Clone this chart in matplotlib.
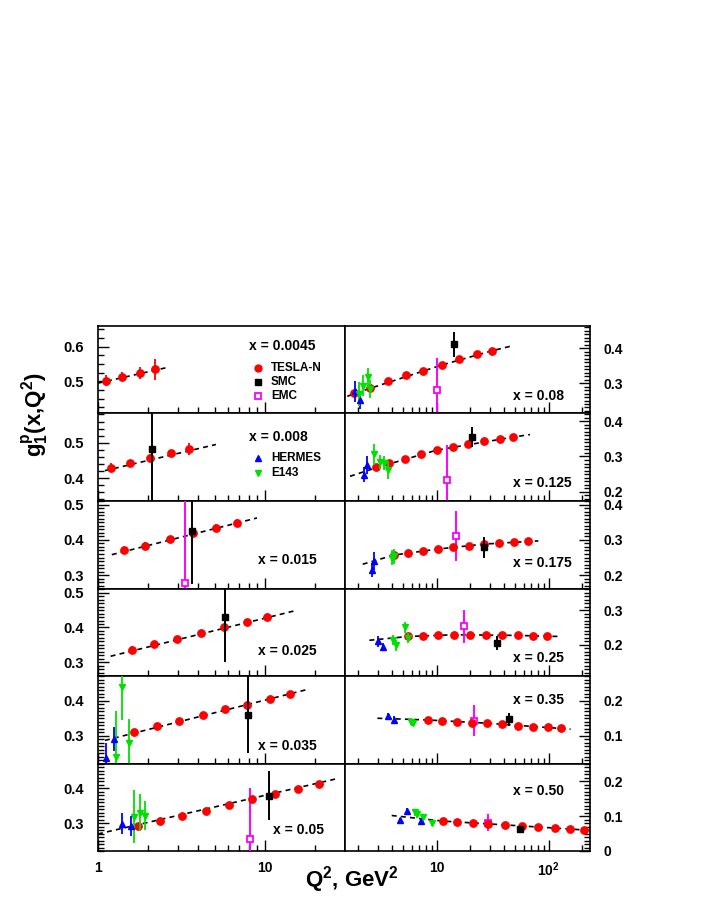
import matplotlib
matplotlib.use('Agg')
import matplotlib.pyplot as plt
import matplotlib.lines as mlines
from matplotlib.ticker import MultipleLocator, LogLocator, FuncFormatter

plt.rcParams['font.family'] = ['Liberation Sans', 'DejaVu Sans']
plt.rcParams['font.weight'] = 'bold'
plt.rcParams['mathtext.fontset'] = 'custom'
plt.rcParams['mathtext.rm'] = 'Liberation Sans:bold'
plt.rcParams['mathtext.it'] = 'Liberation Sans:bold'
plt.rcParams['mathtext.bf'] = 'Liberation Sans:bold'

# panels: left column x=0.0045..0.05, right column x=0.08..0.50
x_bins = ["0.0045", "0.008", "0.015", "0.025", "0.035", "0.05",
          "0.08", "0.125", "0.175", "0.25", "0.35", "0.50"]

y_ranges = [(0.41, 0.66), (0.335, 0.585), (0.26, 0.51), (0.26, 0.51), (0.22, 0.47), (0.22, 0.47),
            (0.215, 0.465), (0.174, 0.424), (0.16, 0.41), (0.11, 0.36), (0.02, 0.27), (0.0, 0.25)]

# TESLA-N projected points
tesla_q2 = [
    [1.11, 1.40, 1.78, 2.19],
    [1.20, 1.55, 2.06, 2.72, 3.51],
    [1.44, 1.92, 2.69, 3.73, 5.09, 6.82],
    [1.60, 2.18, 2.99, 4.13, 5.71, 7.84, 10.35],
    [1.65, 2.26, 3.06, 4.23, 5.77, 7.84, 10.7, 14.1],
    [1.74, 2.35, 3.20, 4.43, 6.13, 8.40, 11.5, 15.9, 21.0],
    [1.83, 2.54, 3.70, 5.32, 7.59, 11.1, 15.8, 22.8, 31.3],
    [2.87, 3.77, 5.21, 7.19, 10.0, 13.9, 19.1, 26.4, 36.7, 48.3],
    [4.16, 5.58, 7.59, 10.3, 14.1, 19.4, 26.4, 36.2, 49.3, 64.9],
    [5.58, 7.59, 10.3, 14.3, 19.8, 27.4, 38.1, 52.7, 72.1, 95.7],
    [8.41, 11.1, 15.1, 20.5, 27.9, 38.5, 52.9, 71.9, 98.0, 128],
    [11.3, 15.1, 21.2, 28.9, 40.7, 57.4, 80.9, 114, 155, 207],
]
tesla_g1 = [
    [0.502, 0.514, 0.525, 0.535],
    [0.429, 0.442, 0.457, 0.470, 0.481],
    [0.370, 0.384, 0.402, 0.418, 0.434, 0.448],
    [0.336, 0.352, 0.368, 0.384, 0.400, 0.415, 0.429],
    [0.310, 0.327, 0.341, 0.358, 0.375, 0.389, 0.404, 0.418],
    [0.292, 0.305, 0.321, 0.336, 0.353, 0.369, 0.384, 0.398, 0.412],
    [0.271, 0.286, 0.305, 0.322, 0.336, 0.353, 0.369, 0.383, 0.393],
    [0.269, 0.282, 0.294, 0.306, 0.318, 0.327, 0.335, 0.343, 0.349, 0.355],
    [0.257, 0.262, 0.269, 0.274, 0.281, 0.284, 0.288, 0.292, 0.293, 0.296],
    [0.224, 0.226, 0.228, 0.229, 0.229, 0.228, 0.228, 0.227, 0.225, 0.224],
    [0.145, 0.143, 0.140, 0.137, 0.136, 0.133, 0.129, 0.126, 0.124, 0.121],
    [0.086, 0.083, 0.080, 0.079, 0.075, 0.072, 0.068, 0.065, 0.0625, 0.0605],
]
tesla_err = [
    [0.015, 0.014, 0.017, 0.03],
    [0.013, 0.01, 0.01, 0.01, 0.017],
    [0.01, 0.01, 0.01, 0.01, 0.01, 0.012],
    [0.01, 0.01, 0.008, 0.008, 0.008, 0.008, 0.008],
    [0.008, 0.01, 0.008, 0.006, 0.006, 0.006, 0.006, 0.006],
    [0.006, 0.006, 0.006, 0.006, 0.005, 0.005, 0.005, 0.005, 0.005],
    [0.01, 0.004, 0.004, 0.004, 0.004, 0.004, 0.004, 0.004, 0.004],
    [0.01, 0.004, 0.004, 0.004, 0.004, 0.004, 0.004, 0.004, 0.004, 0.004],
    [0.004, 0.004, 0.004, 0.004, 0.004, 0.004, 0.004, 0.004, 0.004, 0.004],
    [0.004, 0.004, 0.004, 0.004, 0.004, 0.004, 0.004, 0.004, 0.004, 0.004],
    [0.004, 0.004, 0.004, 0.004, 0.004, 0.004, 0.004, 0.004, 0.004, 0.004],
    [0.004, 0.004, 0.004, 0.004, 0.004, 0.004, 0.004, 0.004, 0.004, 0.004],
]

# SMC
smc_q2 = [[], [2.11], [3.65], [5.77], [7.91], [10.6], [14.4], [20.8], [26.6], [34.3], [44.2], [55.5]]
smc_g1 = [[], [0.483], [0.424], [0.431], [0.360], [0.379], [0.412], [0.355], [0.279], [0.205], [0.147], [0.0625]]
smc_err = [[], [0.2], [0.15], [0.13], [0.11], [0.07], [0.036], [0.029], [0.03], [0.019], [0.019], [0.008]]

# EMC
emc_q2 = [[], [], [3.34], [], [], [8.17], [10.0], [12.4], [14.8], [17.5], [21.7], [28.5]]
emc_g1 = [[], [], [0.279], [], [], [0.255], [0.281], [0.233], [0.311], [0.253], [0.143], [0.0815]]
emc_err = [[], [], [0.3], [], [], [0.145], [0.09], [0.10], [0.072], [0.047], [0.044], [0.025]]

# HERMES
hermes_q2 = [[], [], [], [], [1.11, 1.25], [1.40, 1.58], [1.86, 2.07], [2.24, 2.40],
             [2.63, 2.78], [2.97, 3.30], [3.70, 4.18], [4.70, 5.40, 7.24]]
hermes_g1 = [[], [], [], [], [0.237, 0.291], [0.298, 0.292], [0.276, 0.252], [0.249, 0.276],
             [0.215, 0.241], [0.210, 0.193], [0.156, 0.145], [0.088, 0.115, 0.086]]
hermes_err = [[], [], [], [], [0.043, 0.035], [0.03, 0.029], [0.03, 0.026], [0.02, 0.025],
              [0.02, 0.025], [0.015, 0.012], [0.01, 0.01], [0.008, 0.008, 0.008]]

# E143
e143_q2 = [[], [], [], [], [1.28, 1.40, 1.54], [1.65, 1.79, 1.92], [2.02, 2.18, 2.42, 2.54],
           [2.77, 3.12, 3.40, 3.70], [3.97, 4.16], [4.10, 4.30, 5.21, 5.51], [5.86, 6.10],
           [6.40, 6.72, 7.59, 9.02]]
e143_g1 = [[], [], [], [], [0.241, 0.439, 0.279], [0.319, 0.330, 0.322], [0.268, 0.293, 0.317, 0.283],
           [0.306, 0.285, 0.282, 0.261], [0.250, 0.253], [0.213, 0.198, 0.250, 0.220], [0.140, 0.137],
           [0.112, 0.105, 0.099, 0.080]]
e143_err = [[], [], [], [], [0.13, 0.093, 0.07], [0.075, 0.053, 0.041], [0.035, 0.03, 0.027, 0.025],
            [0.03, 0.02, 0.02, 0.025], [0.02, 0.02], [0.015, 0.015, 0.015, 0.015], [0.01, 0.01],
            [0.01, 0.01, 0.008, 0.008]]

# fit curves (nodes)
fit_q2 = [
    [1.0, 2.66], [1.10, 5.09], [1.21, 8.97], [1.19, 15.1], [1.10, 18.4], [1.0, 27.7],
    [1.59, 1.83, 11.1, 31.3, 48.3],
    [1.68, 2.87, 10.0, 48.3, 68.1],
    [2.18, 4.16, 10.3, 26.4, 80.8],
    [2.50, 5.58, 14.3, 52.7, 122],
    [2.95, 8.41, 27.9, 157],
    [3.96, 11.3, 57.4, 218],
]
fit_g1 = [
    [0.495, 0.541], [0.421, 0.495], [0.358, 0.462], [0.317, 0.448], [0.287, 0.433], [0.269, 0.429],
    [0.262, 0.270, 0.352, 0.393, 0.408],
    [0.244, 0.268, 0.318, 0.355, 0.362],
    [0.231, 0.257, 0.274, 0.288, 0.297],
    [0.213, 0.224, 0.229, 0.227, 0.224],
    [0.150, 0.145, 0.136, 0.119],
    [0.102, 0.086, 0.072, 0.060],
]

# layout in pixels
W, H = 708, 917
col_edges = [98, 344.5, 590]
row_edges = [325.7, 412.7, 501, 589.3, 676, 764, 851]
label_px = [(249, 346), (249, 437), (258, 560), (258, 651), (258, 746), (273, 830),
            (513, 396), (513, 483), (513, 563), (513, 658), (513, 700), (513, 791)]
minor_step = [0.025, 0.02] + [0.01] * 10

fig = plt.figure(figsize=(W / 100, H / 100), dpi=100)


def fx(px):
    return px / W


def fy(py):
    return 1 - py / H


def ytick_fmt(v, _):
    return '0' if abs(v) < 1e-9 else '%.1f' % v


for i in range(12):
    col, row = divmod(i, 6)
    x0, x1 = col_edges[col], col_edges[col + 1]
    y0, y1 = row_edges[row], row_edges[row + 1]
    ax = fig.add_axes([fx(x0), fy(y1), (x1 - x0) / W, (y1 - y0) / H])
    ax.set_xscale('log')
    if col == 0:
        ax.set_xlim(1, 30)
    else:
        ax.set_xlim(1.5, 234)
    ax.set_ylim(*y_ranges[i])

    ax.plot(fit_q2[i], fit_g1[i], color='black', lw=1.2, ls=(0, (3, 2.5)), zorder=2)

    if emc_q2[i]:
        ax.errorbar(emc_q2[i], emc_g1[i], yerr=emc_err[i], fmt='s', ms=5, mfc='white',
                    mec='#ff00ff', mew=1.3, ecolor='#ff00ff', elinewidth=1.4, capsize=0, zorder=3)
    ax.errorbar(tesla_q2[i], tesla_g1[i], yerr=tesla_err[i], fmt='o', ms=5.3, color='red',
                elinewidth=1.3, capsize=0, zorder=4)
    if smc_q2[i]:
        ax.errorbar(smc_q2[i], smc_g1[i], yerr=smc_err[i], fmt='s', ms=5, color='black',
                    elinewidth=1.4, capsize=0, zorder=5)
    if hermes_q2[i]:
        ax.errorbar(hermes_q2[i], hermes_g1[i], yerr=hermes_err[i], fmt='^', ms=5, color='blue',
                    elinewidth=1.3, capsize=0, zorder=5)
    if e143_q2[i]:
        ax.errorbar(e143_q2[i], e143_g1[i], yerr=e143_err[i], fmt='v', ms=5, color='#00e000',
                    elinewidth=1.3, capsize=0, zorder=5)

    for s in ax.spines.values():
        s.set_linewidth(1.2)

    ax.xaxis.set_major_locator(LogLocator(base=10))
    ax.xaxis.set_minor_locator(LogLocator(base=10, subs=range(2, 10)))
    ax.xaxis.set_minor_formatter(FuncFormatter(lambda v, _: ''))
    if col == 0:
        ax.xaxis.set_major_formatter(FuncFormatter(lambda v, _: {1: '1', 10: '10'}.get(int(round(v)), '')))
    else:
        ax.xaxis.set_major_formatter(FuncFormatter(lambda v, _: {10: '10', 100: '10$^2$'}.get(int(round(v)), '')))
    ax.tick_params(axis='x', which='both', direction='in', top=False, bottom=True,
                   labelbottom=(row == 5), labelsize=10, pad=7)
    ax.tick_params(axis='x', which='major', length=8, width=1)
    ax.tick_params(axis='x', which='minor', length=4, width=1)

    ax.yaxis.set_major_locator(MultipleLocator(0.1))
    ax.yaxis.set_minor_locator(MultipleLocator(minor_step[i]))
    ax.yaxis.set_major_formatter(FuncFormatter(ytick_fmt))
    if col == 0:
        ax.tick_params(axis='y', which='both', direction='in', left=True, right=False,
                       labelleft=True, labelright=False, labelsize=10.5, pad=10)
    else:
        ax.tick_params(axis='y', which='both', direction='in', left=False, right=True,
                       labelleft=False, labelright=True, labelsize=10, pad=10)
    ax.tick_params(axis='y', which='major', length=8, width=1)
    ax.tick_params(axis='y', which='minor', length=4, width=1)

    lx, ly = label_px[i]
    fig.text(fx(lx), fy(ly), 'x = ' + x_bins[i], fontsize=10, fontweight='bold',
             ha='left', va='center')

# legend entries
legend_items = [
    ('TESLA-N', dict(marker='o', color='red', mfc='red', mec='red'), 368),
    ('SMC', dict(marker='s', color='black', mfc='black', mec='black'), 382),
    ('EMC', dict(marker='s', color='#ff00ff', mfc='white', mec='#ff00ff', mew=1.3), 396),
    ('HERMES', dict(marker='^', color='blue', mfc='blue', mec='blue'), 458),
    ('E143', dict(marker='v', color='#00e000', mfc='#00e000', mec='#00e000'), 473),
]
for name, style, py in legend_items:
    fig.add_artist(mlines.Line2D([fx(258)], [fy(py)], ls='none', ms=5,
                                 transform=fig.transFigure, **style))
    fig.text(fx(271), fy(py), name, fontsize=8.5, fontweight='bold', ha='left', va='center')

fig.text(fx(35), fy(415), r'g$_1^p$(x,Q$^2$)', rotation=90, fontsize=16,
         fontweight='bold', ha='center', va='center')
fig.text(fx(352), fy(880), r'Q$^2$, GeV$^2$', fontsize=16, fontweight='bold',
         ha='center', va='center')

fig.savefig('out.png', dpi=100)
